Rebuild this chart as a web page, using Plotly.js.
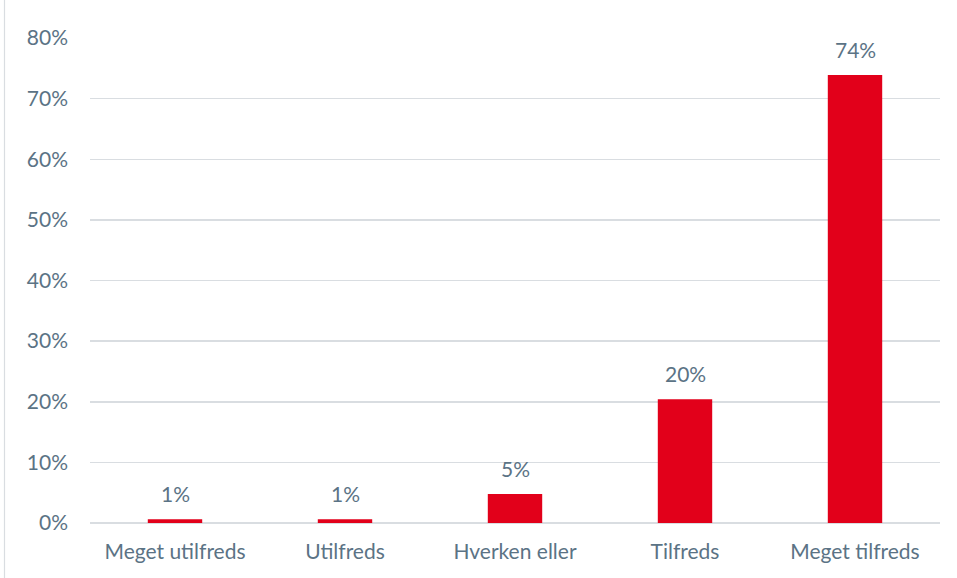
<!DOCTYPE html>
<html>
<head>
<meta charset="utf-8">
<script src="https://cdn.plot.ly/plotly-3.0.1.min.js"></script>
<style>
html,body{margin:0;padding:0;background:#fff;}
#chart{width:957px;height:578px;}
</style>
</head>
<body>
<div id="chart"></div>
<script>
const categories = ["Meget utilfreds", "Utilfreds", "Hverken eller", "Tilfreds", "Meget tilfreds"];
const shares = [0.006, 0.006, 0.048, 0.204, 0.739];
const yTicks = [0, 0.1, 0.2, 0.3, 0.4, 0.5, 0.6, 0.7, 0.8];

const textColor = "#5B7385";
const fontFam = "Lato, 'Open Sans', sans-serif";
const fs = 21;

const L = 90, R = 17, T = 38, B = 55, W = 957, H = 578;
const pw = W - L - R, ph = H - T - B;

const labels = categories.map((c, i) => ({
  x: c, y: shares[i], xref: "x", yref: "y",
  text: Math.round(shares[i] * 100) + "%",
  showarrow: false, yanchor: "bottom", yshift: 11,
  font: {family: fontFam, size: fs, color: textColor}
}));

Plotly.newPlot("chart", [{
  type: "bar",
  x: categories,
  y: shares,
  marker: {color: "#E2001A"},
  hoverinfo: "skip"
}], {
  width: W, height: H,
  margin: {l: L, r: R, t: T, b: B},
  paper_bgcolor: "#fff",
  plot_bgcolor: "#fff",
  bargap: 0.68,
  showlegend: false,
  font: {family: fontFam, color: textColor, size: fs},
  xaxis: {
    showgrid: false, zeroline: false, showline: false,
    ticks: "", ticklabelstandoff: 14,
    tickfont: {family: fontFam, size: fs, color: textColor}
  },
  yaxis: {
    range: [0, 0.8],
    tickvals: yTicks,
    tickformat: ".0%",
    showgrid: true, gridcolor: "#D9DDE1", gridwidth: 1.5,
    zeroline: true, zerolinecolor: "#D9DDE1", zerolinewidth: 1.5,
    showline: false, ticks: "",
    ticklabelstandoff: 21,
    tickfont: {family: fontFam, size: fs, color: textColor}
  },
  annotations: labels,
  shapes: [{
    type: "rect", xref: "paper", yref: "paper",
    x0: (4.5 - L) / pw, x1: (W + 10 - L) / pw,
    y0: -(H + 10 - T - ph) / ph, y1: (H - T - 8.5) / ph,
    line: {color: "#D9DDE1", width: 1.2}, fillcolor: "rgba(0,0,0,0)",
    layer: "below"
  }]
}, {displayModeBar: false, staticPlot: true});
</script>
</body>
</html>
